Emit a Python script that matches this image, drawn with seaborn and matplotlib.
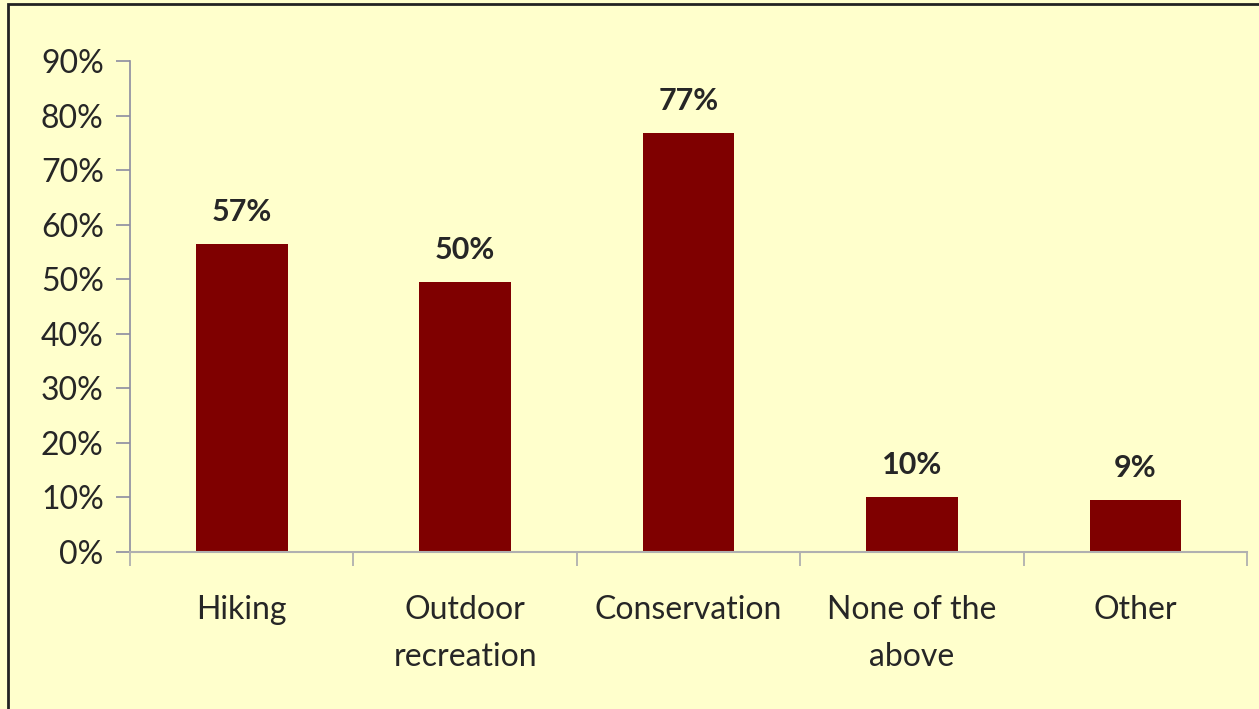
import matplotlib
matplotlib.use("Agg")
import matplotlib.pyplot as plt
import pandas as pd
import seaborn as sns
from matplotlib.patches import Rectangle

# Chart data
categories = ["Hiking", "Outdoor\nrecreation", "Conservation", "None of the\nabove", "Other"]
shares = [0.565, 0.495, 0.768, 0.101, 0.095]
bar_labels = ["57%", "50%", "77%", "10%", "9%"]
y_ticks = [0.0, 0.1, 0.2, 0.3, 0.4, 0.5, 0.6, 0.7, 0.8, 0.9]

bg = "#FFFFCC"
bar_color = "#7F0000"

sns.set_theme(style="white")
plt.rcParams["font.family"] = ["Lato", "DejaVu Sans"]

df = pd.DataFrame({"category": categories, "share": shares})

fig = plt.figure(figsize=(12.59, 7.09), dpi=100, facecolor=bg)
ax = fig.add_axes([0.1033, 0.2215, 0.8872, 0.6925])
ax.set_facecolor(bg)

sns.barplot(data=df, x="category", y="share", color=bar_color, width=0.41,
            saturation=1, linewidth=0, ax=ax)

# Value labels above bars
for i, (v, lab) in enumerate(zip(shares, bar_labels)):
    ax.annotate(lab, (i, v), xytext=(0, 13), textcoords="offset points",
                ha="center", va="bottom", fontsize=22, fontweight="bold")

ax.set_ylim(0, 0.9)
ax.set_xlim(-0.5, len(categories) - 0.5)
ax.set_yticks(y_ticks)
ax.set_yticklabels([f"{int(round(t * 100))}%" for t in y_ticks], fontsize=23)
ax.set_xlabel("")
ax.set_ylabel("")

# x ticks sit between categories, labels centred under bars
ax.set_xticks([i - 0.5 for i in range(len(categories) + 1)])
ax.set_xticklabels([])
ax.set_xticks(range(len(categories)), minor=True)
ax.set_xticklabels(categories, minor=True, fontsize=23, linespacing=1.72)
ax.tick_params(axis="x", which="major", direction="out", length=10, width=1.3,
               color="#B0B0B0", bottom=True)
ax.tick_params(axis="x", which="minor", length=0, pad=31)
ax.tick_params(axis="y", direction="out", length=10, width=1.2, color="#8C8CA0",
               left=True, pad=9)

for side in ["top", "right"]:
    ax.spines[side].set_visible(False)
ax.spines["left"].set_color("#8C8CA0")
ax.spines["left"].set_linewidth(1.2)
ax.spines["bottom"].set_color("#B0B0B0")
ax.spines["bottom"].set_linewidth(1.5)

# Outer chart frame
fig.patches.append(Rectangle((8 / 1259, -0.05), 1.1, 1 - 4 / 709 + 0.05,
                             transform=fig.transFigure, fill=False,
                             edgecolor="#222222", linewidth=2))

fig.savefig("out.png", dpi=100, facecolor=bg)
